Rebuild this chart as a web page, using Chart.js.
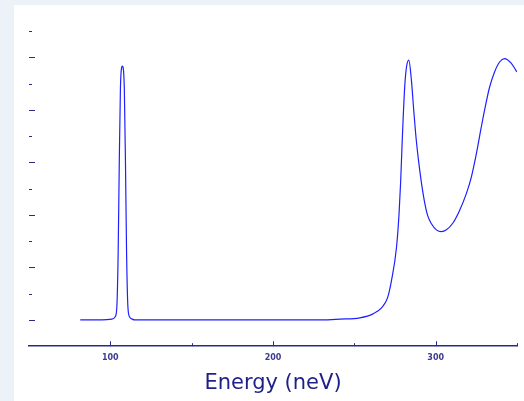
<!DOCTYPE html>
<html>
<head>
<meta charset="utf-8">
<script src="https://cdn.jsdelivr.net/npm/chart.js@4/dist/chart.umd.min.js"></script>
<style>
  html, body { margin: 0; padding: 0; background: #edf1f8; }
  #wrap { position: absolute; left: 14px; top: 5px; width: 510px; height: 396px; background: #fff; }
</style>
</head>
<body>
<div id="wrap"><canvas id="chart" width="510" height="396"></canvas></div>
<script>
'use strict'
// energy in neV, signal in arbitrary units (y ticks carry no labels)
const energy = [
  81.5, 95, 101, 103, 104, 104.8, 105.5, 106.2, 106.9, 107.4, 107.9, 108.6, 109.3, 110, 110.8, 111.8, 113.5, 115,
  180, 230, 241.1, 253.4, 261.5, 266.7, 270.4, 272.8, 275.9, 277.5, 278.5, 279.3, 280.1, 281.0, 282.0, 283.5,
  285.1, 286.5, 288.0, 289.6, 291.3, 293.3, 295.1, 297.4, 300.6, 303.5, 306.6, 310.6, 314.7, 318.8, 321.9,
  325.0, 328.0, 330.1, 333.1, 336.2, 339.3, 342.3, 346.4, 349.9
];
const signal = [
  0, 0, 0.03, 0.12, 0.5, 2.5, 6.0, 8.8, 9.6, 9.66, 9.6, 8.8, 6.0, 2.5, 0.5, 0.12, 0.03, 0,
  0, 0, 0.03, 0.08, 0.23, 0.46, 0.84, 1.49, 2.75, 4.05, 5.3, 6.6, 7.8, 8.9, 9.6, 9.89,
  9.12, 8.0, 6.9, 6.0, 5.2, 4.45, 3.97, 3.66, 3.42, 3.36, 3.43, 3.69, 4.17, 4.80, 5.43,
  6.32, 7.33, 8.0, 8.85, 9.44, 9.82, 9.95, 9.78, 9.44
];
const xLabels = [100, 200, 300];

const navy = '#2a2a8c';

let points = [];
for (let i = 0; i < energy.length; i++) {
  points.push({ x: energy[i], y: signal[i] });
}

// ticks point inward, long/short alternating
const innerTicks = {
  id: 'innerTicks',
  afterDraw(chart) {
    const ctx = chart.ctx;
    const area = chart.chartArea;
    const xs = chart.scales.x;
    const ys = chart.scales.y;
    ctx.save();
    ctx.strokeStyle = navy;
    ctx.lineWidth = 1;
    xs.ticks.forEach(t => {
      if (t.value <= 50) return;
      const px = Math.round(xs.getPixelForValue(t.value)) + 0.5;
      const len = t.value % 100 === 0 ? 5 : 3;
      ctx.beginPath();
      ctx.moveTo(px, area.bottom);
      ctx.lineTo(px, area.bottom - len);
      ctx.stroke();
    });
    ys.ticks.forEach(t => {
      if (t.value < 0) return;
      const py = Math.round(ys.getPixelForValue(t.value)) + 0.5;
      const len = t.value % 2 === 0 ? 6 : 3;
      ctx.beginPath();
      ctx.moveTo(area.left, py);
      ctx.lineTo(area.left + len, py);
      ctx.stroke();
    });
    ctx.restore();
  }
};

new Chart(document.getElementById('chart'), {
  type: 'line',
  data: {
    datasets: [{
      data: points,
      borderColor: '#1f1fff',
      borderWidth: 1.2,
      pointRadius: 0,
      cubicInterpolationMode: 'monotone',
      fill: false
    }]
  },
  options: {
    responsive: false,
    animation: false,
    events: [],
    layout: { padding: { left: 15, right: 6, top: 26, bottom: 0 } },
    plugins: { legend: { display: false }, tooltip: { enabled: false } },
    scales: {
      x: {
        type: 'linear',
        min: 50,
        max: 350,
        grid: { display: false, drawTicks: false },
        border: { display: true, color: navy, width: 1.5 },
        ticks: {
          stepSize: 50,
          autoSkip: false,
          maxRotation: 0,
          padding: 7,
          color: '#3b3b90',
          font: { family: 'DejaVu Sans', size: 8, weight: 'bold' },
          callback: v => xLabels.includes(v) ? String(v) : ''
        },
        title: {
          display: true,
          text: 'Energy (neV)',
          color: '#1f1f8a',
          font: { family: 'DejaVu Sans', size: 21 },
          padding: { top: 1, bottom: 5 }
        }
      },
      y: {
        display: false,
        min: -1,
        max: 11,
        ticks: { stepSize: 1 }
      }
    }
  },
  plugins: [innerTicks]
});
</script>
</body>
</html>
